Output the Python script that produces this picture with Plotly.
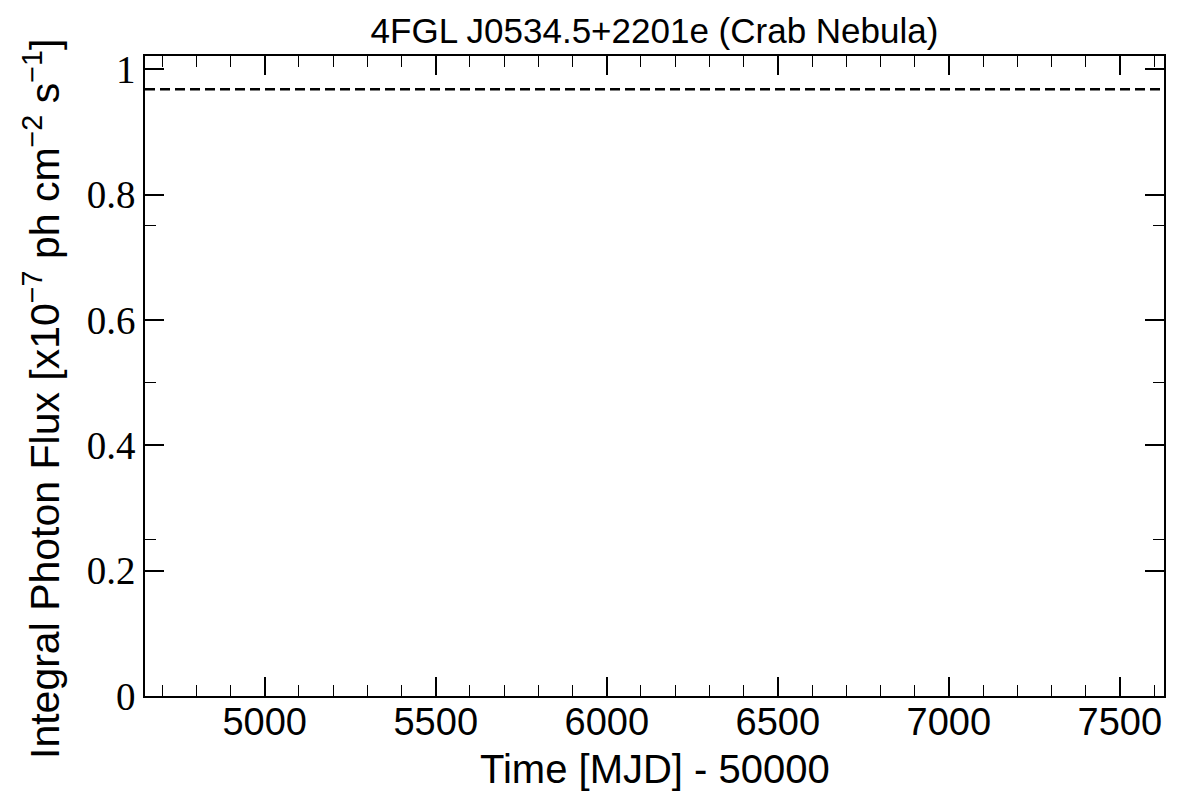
import plotly.graph_objects as go

# Data
title_text = "4FGL J0534.5+2201e (Crab Nebula)"
x_title = "Time [MJD] - 50000"
y_title = "Integral Photon Flux [x10<sup>\u22127</sup> ph cm<sup>\u22122</sup> s<sup>\u22121</sup>]"
x_limits = [4650, 7629]          # Time [MJD] - 50000 axis limits
y_limits = [0, 1.021]
mean_flux = 0.968                 # average flux level (x1e-7 ph cm^-2 s^-1)
x_major_step = 500
x_minor_step = 100
y_major_step = 0.2
y_minor_step = 0.25

fig = go.Figure()
fig.add_trace(go.Scatter(
    x=x_limits, y=[mean_flux, mean_flux], mode="lines",
    line=dict(color="black", width=2.5, dash="10px,5px"),
    showlegend=False, hoverinfo="skip",
))

sans = "Liberation Sans, Arial, sans-serif"
serif = "Liberation Serif, Times New Roman, serif"

# page body has an 8px default margin; compensate so the plot box sits at 145..1164 x 56..696
fig.update_layout(
    width=1200, height=800,
    paper_bgcolor="white", plot_bgcolor="white",
    margin=dict(l=137, r=44, t=48, b=112, autoexpand=False),
    title=dict(text=title_text, font=dict(family=sans, size=35, color="black"),
               x=0.5, xref="paper", y=1 - 23/800, yref="container", yanchor="middle"),
    showlegend=False,
    annotations=[
        dict(text=x_title, xref="paper", yref="paper", x=0.5, y=-(769 - 696) / 640,
             xanchor="center", yanchor="middle", showarrow=False,
             font=dict(family=sans, size=40, color="black")),
        dict(text=y_title, xref="paper", yref="paper", x=(42 - 145) / 1019, y=(696 - 399) / 640,
             xanchor="center", yanchor="middle", showarrow=False, textangle=-90,
             font=dict(family=sans, size=41, color="black")),
    ],
)
fig.update_xaxes(
    range=x_limits, showgrid=False, zeroline=False, automargin=False,
    showline=True, linecolor="black", linewidth=1.5, mirror="ticks",
    ticks="inside", ticklen=19, tickwidth=2, tickcolor="black",
    tick0=0, dtick=x_major_step, ticklabelstandoff=-8,
    tickfont=dict(family=sans, size=38, color="black"),
    minor=dict(ticks="inside", ticklen=11, tickwidth=1, tickcolor="black",
               tick0=0, dtick=x_minor_step, showgrid=False),
)
fig.update_yaxes(
    range=y_limits, showgrid=False, zeroline=False, automargin=False,
    showline=True, linecolor="black", linewidth=1.5, mirror="ticks",
    ticks="inside", ticklen=19, tickwidth=2, tickcolor="black",
    tick0=0, dtick=y_major_step,
    tickfont=dict(family=serif, size=39, color="black"),
    minor=dict(ticks="inside", ticklen=11, tickwidth=1, tickcolor="black",
               tick0=0, dtick=y_minor_step, showgrid=False),
)

fig.write_html("out.html")
